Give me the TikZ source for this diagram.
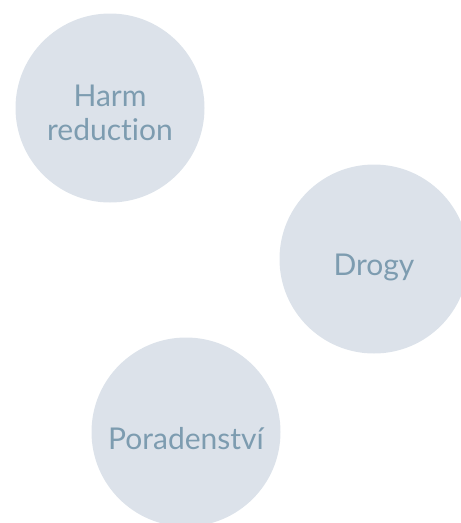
\documentclass[tikz,border=0pt]{standalone}
\usepackage{fontspec}
\setmainfont{Lato}[Ligatures={NoCommon,NoRare}]
\definecolor{bubble}{HTML}{DCE2EA}
\definecolor{label}{HTML}{7D9CB0}
\begin{document}
\begin{tikzpicture}[x=1pt,y=-1pt,
  topic/.style={circle,fill=bubble,minimum size=189pt,inner sep=0pt},
  topictext/.style={anchor=base,inner sep=0pt,text=label,
    font=\fontsize{30}{34}\selectfont,align=center}]
\useasboundingbox (0,0) rectangle (461,523);
\clip (0,0) rectangle (461,523);
\node[topic] (harm) at (110,108) {};
\node[topic] (drogy) at (374,259) {};
\node[topic] (porad) at (186,432) {};
\node[topictext] (harmtext) at (110,140) {Harm\\reduction};
\node[topictext] (drogytext) at (374,275) {Drogy};
\node[topictext] (poradtext) at (186,449) {Poradenství};
\end{tikzpicture}
\end{document}
